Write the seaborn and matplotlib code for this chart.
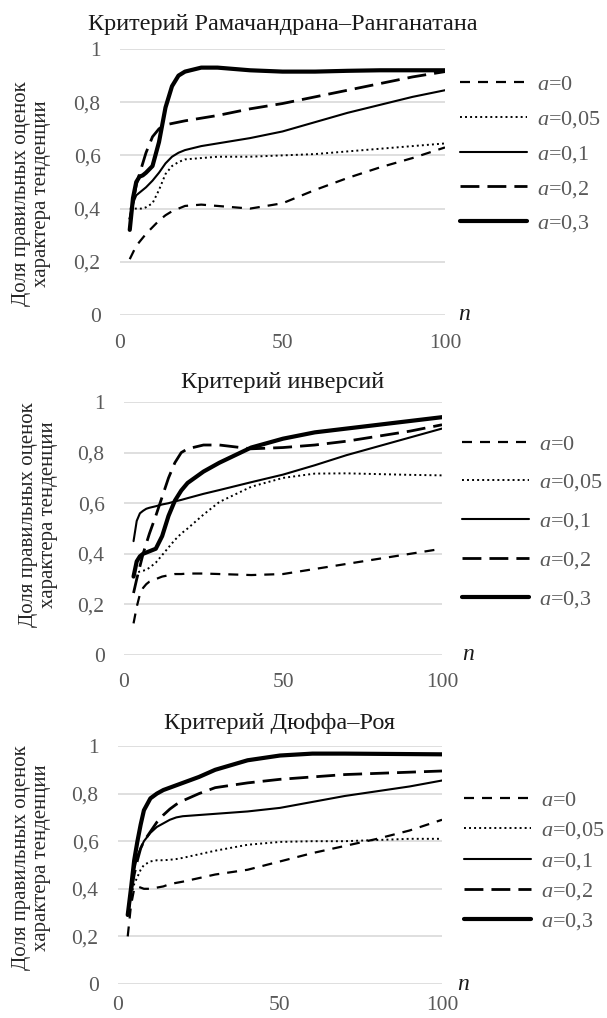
import seaborn as sns
import matplotlib.pyplot as plt

sns.set_theme(style="white")
plt.rcParams["font.family"] = ["Liberation Serif", "DejaVu Serif"]
plt.rcParams["mathtext.fontset"] = "custom"
plt.rcParams["mathtext.it"] = "Liberation Serif:italic"
plt.rcParams["mathtext.rm"] = "Liberation Serif"

# sample size n
n = [3, 4, 5, 6, 7, 8, 10, 12, 14, 16, 18, 20, 25, 30, 40, 50, 60, 70, 80, 90, 100]

# Критерий Рамачандрана–Ранганатана
rr_a0 = [0.21, 0.235, 0.26, 0.275, 0.29, 0.305, 0.33, 0.355, 0.375, 0.39, 0.40, 0.41, 0.415, 0.41, 0.40, 0.42, 0.47, 0.515, 0.555, 0.59, 0.63]
rr_a005 = [0.40, 0.40, 0.40, 0.40, 0.40, 0.405, 0.42, 0.47, 0.53, 0.56, 0.575, 0.585, 0.59, 0.595, 0.595, 0.60, 0.605, 0.615, 0.625, 0.635, 0.645]
rr_a01 = [0.36, 0.42, 0.45, 0.46, 0.47, 0.48, 0.505, 0.535, 0.57, 0.595, 0.61, 0.62, 0.635, 0.645, 0.665, 0.69, 0.725, 0.76, 0.79, 0.82, 0.845]
rr_a02 = [0.36, 0.42, 0.49, 0.53, 0.57, 0.61, 0.67, 0.70, 0.715, 0.72, 0.725, 0.73, 0.74, 0.75, 0.775, 0.795, 0.82, 0.845, 0.87, 0.895, 0.915]
rr_a03 = [0.32, 0.44, 0.50, 0.52, 0.525, 0.535, 0.56, 0.65, 0.78, 0.86, 0.90, 0.915, 0.93, 0.93, 0.92, 0.915, 0.915, 0.918, 0.92, 0.92, 0.92]

# Критерий инверсий
inv_a0 = [0.125, 0.19, 0.24, 0.265, 0.28, 0.29, 0.30, 0.31, 0.315, 0.32, 0.32, 0.322, 0.322, 0.32, 0.316, 0.32, 0.34, 0.36, 0.38, 0.40, 0.42]
inv_a005 = [0.32, 0.325, 0.33, 0.333, 0.337, 0.345, 0.365, 0.395, 0.425, 0.455, 0.48, 0.50, 0.555, 0.605, 0.665, 0.70, 0.717, 0.718, 0.715, 0.712, 0.71]
inv_a01 = [0.45, 0.53, 0.56, 0.57, 0.578, 0.582, 0.588, 0.595, 0.60, 0.607, 0.613, 0.62, 0.637, 0.652, 0.683, 0.713, 0.75, 0.79, 0.825, 0.86, 0.895]
inv_a02 = [0.245, 0.30, 0.35, 0.40, 0.44, 0.48, 0.55, 0.625, 0.70, 0.76, 0.80, 0.815, 0.83, 0.83, 0.815, 0.82, 0.83, 0.845, 0.865, 0.885, 0.91]
inv_a03 = [0.31, 0.37, 0.39, 0.40, 0.405, 0.41, 0.42, 0.47, 0.55, 0.61, 0.65, 0.68, 0.725, 0.76, 0.82, 0.855, 0.88, 0.895, 0.91, 0.925, 0.94]

# Критерий Дюффа–Роя
dr_a0 = [0.20, 0.33, 0.40, 0.41, 0.405, 0.40, 0.40, 0.405, 0.41, 0.42, 0.425, 0.43, 0.445, 0.46, 0.48, 0.515, 0.55, 0.58, 0.61, 0.645, 0.69]
dr_a005 = [0.29, 0.37, 0.42, 0.45, 0.48, 0.50, 0.515, 0.52, 0.52, 0.522, 0.525, 0.53, 0.545, 0.56, 0.585, 0.597, 0.60, 0.60, 0.605, 0.61, 0.61]
dr_a01 = [0.29, 0.40, 0.48, 0.54, 0.57, 0.60, 0.635, 0.66, 0.675, 0.69, 0.70, 0.705, 0.71, 0.715, 0.725, 0.74, 0.765, 0.79, 0.81, 0.83, 0.855]
dr_a02 = [0.29, 0.38, 0.46, 0.52, 0.57, 0.60, 0.64, 0.68, 0.71, 0.735, 0.755, 0.77, 0.80, 0.825, 0.845, 0.86, 0.87, 0.88, 0.885, 0.89, 0.895]
dr_a03 = [0.29, 0.40, 0.52, 0.60, 0.67, 0.73, 0.78, 0.80, 0.815, 0.825, 0.835, 0.845, 0.87, 0.90, 0.94, 0.96, 0.968, 0.968, 0.967, 0.966, 0.965]

titles = ["Критерий Рамачандрана–Ранганатана", "Критерий инверсий", "Критерий Дюффа–Роя"]
a_labels = ["$a$=0", "$a$=0,05", "$a$=0,1", "$a$=0,2", "$a$=0,3"]
y_ticks = [0, 0.2, 0.4, 0.6, 0.8, 1]
y_ticklabels = ["0", "0,2", "0,4", "0,6", "0,8", "1"]
x_ticks = [0, 50, 100]
y_label = "Доля правильных оценок\nхарактера тенденции"

series = [
    [rr_a0, rr_a005, rr_a01, rr_a02, rr_a03],
    [inv_a0, inv_a005, inv_a01, inv_a02, inv_a03],
    [dr_a0, dr_a005, dr_a01, dr_a02, dr_a03],
]

# black lines, told apart by dash pattern and width
styles = [
    dict(linewidth=1.6, linestyle=(0, (4.5, 3.6))),
    dict(linewidth=1.4, linestyle=(0, (1, 1.6))),
    dict(linewidth=1.5, linestyle="-"),
    dict(linewidth=2.0, linestyle=(0, (6.8, 2.9))),
    dict(linewidth=3.0, linestyle="-"),
]

W, H = 607, 1018
fig = plt.figure(figsize=(W / 100, H / 100), dpi=100)
fig.patch.set_facecolor("white")

# layout in pixels: axes box (l, t, r, b), title pad, x tick pad, legend anchor, label spacing, ylabel anchor, n label x
layout = [
    dict(box=(120, 49, 445, 315), tpad=14, xpad=14, leg=(460, 154.5), sp=0.62, ylab=(51, 194), nx=458),
    dict(box=(124, 402, 442, 655), tpad=10, xpad=13, leg=(462, 522), sp=0.80, ylab=(58, 515), nx=462),
    dict(box=(118, 746, 442, 984), tpad=12, xpad=9, leg=(464, 861.5), sp=0.42, ylab=(51, 858), nx=457),
]

for k, lay in enumerate(layout):
    l, t, r, b = lay["box"]
    ax = fig.add_axes([l / W, 1 - b / H, (r - l) / W, (b - t) / H])

    for vals, lbl, st in zip(series[k], a_labels, styles):
        sns.lineplot(x=n, y=vals, ax=ax, color="black", label=lbl, **st)

    ax.set_xlim(0, 100)
    ax.set_ylim(0, 1)
    ax.set_xticks(x_ticks)
    ax.set_xticklabels([str(v) for v in x_ticks])
    ax.set_yticks(y_ticks)
    ax.set_yticklabels(y_ticklabels)
    ax.tick_params(axis="both", length=0, labelsize=15.5, labelcolor="#595959")
    ax.tick_params(axis="y", pad=14)
    ax.tick_params(axis="x", pad=lay["xpad"])
    ax.grid(axis="y", color="#d9d9d9", linewidth=1.2)
    ax.grid(axis="x", visible=False)
    ax.set_axisbelow(True)
    for sp in ax.spines.values():
        sp.set_visible(False)
    ax.set_xlabel("")

    ax.set_title(titles[k], fontsize=17.5, color="#1a1a1a", pad=lay["tpad"])
    ax.set_ylabel(y_label, fontsize=15, color="#262626", linespacing=1.1)
    ax.yaxis.set_label_coords(lay["ylab"][0] / W, 1 - lay["ylab"][1] / H, transform=fig.transFigure)

    ax.text((lay["nx"] - l) / (r - l), 0, "n", style="italic", fontsize=17,
            color="#1a1a1a", ha="left", va="center", transform=ax.transAxes)

    leg = ax.legend(loc="center left",
                    bbox_to_anchor=(lay["leg"][0] / W, 1 - lay["leg"][1] / H),
                    bbox_transform=fig.transFigure, frameon=False, fontsize=16,
                    handlelength=3.0, handletextpad=0.45, labelspacing=lay["sp"],
                    borderpad=0, borderaxespad=0)
    for txt in leg.get_texts():
        txt.set_color("#595959")

fig.savefig("out.png", dpi=100, facecolor="white")
